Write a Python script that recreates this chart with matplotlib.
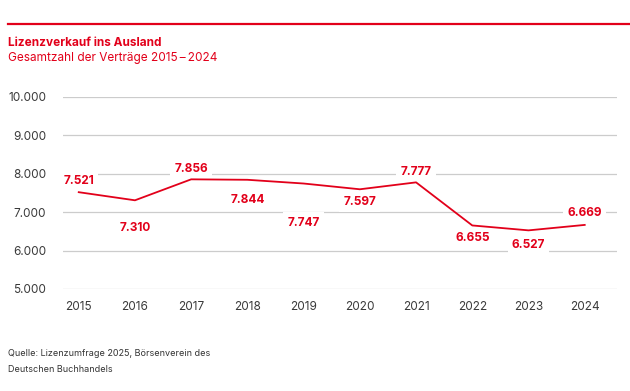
import matplotlib
matplotlib.use('Agg')
import matplotlib.pyplot as plt
from matplotlib.lines import Line2D

# data: total licence contracts sold abroad
years = [2015, 2016, 2017, 2018, 2019, 2020, 2021, 2022, 2023, 2024]
contracts = [7521, 7310, 7856, 7844, 7747, 7597, 7777, 6655, 6527, 6669]
value_labels = ['7.521', '7.310', '7.856', '7.844', '7.747', '7.597', '7.777', '6.655', '6.527', '6.669']
yticks = [5000, 6000, 7000, 8000, 9000, 10000]
ytick_labels = ['5.000', '6.000', '7.000', '8.000', '9.000', '10.000']

# label offsets in pixels (positive = below the point)
label_offsets = [-11, 28, -10, 20, 39, 13, -10, 13, 15, -12]

red = '#e2001a'
plt.rcParams['font.family'] = ['Inter', 'DejaVu Sans']

fig = plt.figure(figsize=(6.3, 3.91), dpi=100)
ax = fig.add_axes([0.1, 1 - 289 / 391, 0.879, (289 - 97) / 391])

ax.plot(years, contracts, color=red, lw=1.3, zorder=4)

for x, v, lab, off in zip(years, contracts, value_labels, label_offsets):
    ax.annotate(lab, (x, v), xytext=(0, -off), textcoords='offset pixels',
                ha='center', va='center', color=red, fontsize=8.5, fontweight='bold',
                bbox=dict(facecolor='white', edgecolor='none', pad=3), zorder=3)

ax.set_ylim(5000, 10000)
ax.set_xlim(2014.72, 2024.57)
ax.set_yticks(yticks)
ax.set_yticklabels(ytick_labels)
ax.set_xticks(years)
ax.grid(axis='y', color='#cccccc', lw=0.9, zorder=0)
ax.set_axisbelow(True)
for s in ax.spines.values():
    s.set_visible(False)
ax.tick_params(axis='both', length=0, labelsize=8.5, colors='#3a3a3a')
ax.tick_params(axis='y', pad=12)
ax.tick_params(axis='x', pad=9)

# header
fig.add_artist(Line2D([8 / 630, 1.0], [1 - 24 / 391, 1 - 24 / 391], color=red, lw=1.6))
fig.text(8 / 630, 1 - 43 / 391, 'Lizenzverkauf ins Ausland', color=red, fontsize=8.5,
         fontweight='bold', va='center', ha='left')
fig.text(8 / 630, 1 - 58 / 391, 'Gesamtzahl der Verträge 2015\u2009–\u20092024',
         color=red, fontsize=8.5, va='center', ha='left')

fig.text(8 / 630, 1 - 354 / 391, 'Quelle: Lizenzumfrage 2025, Börsenverein des', color='#333333',
         fontsize=6.5, va='center', ha='left')
fig.text(8 / 630, 1 - 369 / 391, 'Deutschen Buchhandels', color='#333333',
         fontsize=6.5, va='center', ha='left')

fig.savefig('out.png', dpi=100)
